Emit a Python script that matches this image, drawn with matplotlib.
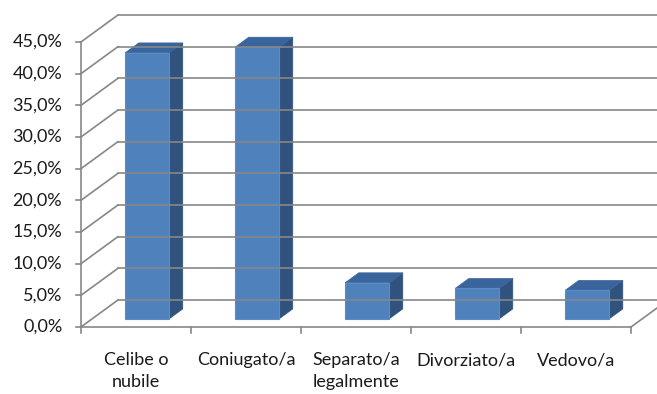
import numpy as np
import matplotlib.pyplot as plt
from matplotlib.patches import Polygon

plt.rcParams['font.family'] = ['Lato', 'DejaVu Sans']

categorie = ['Celibe o\nnubile', 'Coniugato/a', 'Separato/a\nlegalmente', 'Divorziato/a', 'Vedovo/a']
valori = [42.0, 42.9, 5.7, 4.8, 4.5]
yticks = [0, 5, 10, 15, 20, 25, 30, 35, 40, 45]
ylabels = [('%.1f%%' % v).replace('.', ',') for v in yticks]

# obliqua della profondita' (in unita' di categoria / percento)
DX, DY = 0.336, 4.26
z1, z2 = 0.30, 0.67   # profondita' delle barre
larg = 0.4
grigio = '#878787'
c_front = '#4f81bd'
c_top = '#3a659c'
c_side = '#31527d'


def proj(x, y, z):
    return (x + z * DX, y + z * DY)


fig = plt.figure(figsize=(6.57, 3.94), dpi=100)
ax = fig.add_axes([0, 0, 1, 1])
ax.set_xlim(-0.736, 5.236)
ax.set_ylim(-10.58, 51.63)
ax.axis('off')

n = len(categorie)
# griglia: parete di fondo e parete laterale
for v in yticks:
    ax.plot([DX, n + DX], [v + DY, v + DY], color=grigio, lw=1.2)
    ax.plot([0, DX], [v, v + DY], color=grigio, lw=1.2)
    ax.plot([-0.045, 0], [v, v], color=grigio, lw=1.2)
# pavimento e assi
ax.plot([0, n], [0, 0], color=grigio, lw=1.2)
ax.plot([n, n + DX], [0, DY], color=grigio, lw=1.2)
ax.plot([0, 0], [0, yticks[-1]], color=grigio, lw=1.2)
for i in range(n + 1):
    ax.plot([i, i], [0, -1.0], color=grigio, lw=1.2)

# barre 3D
for i, h in enumerate(valori):
    x0 = i + 0.5 - larg / 2
    x1 = i + 0.5 + larg / 2
    top = [proj(x0, h, z1), proj(x1, h, z1), proj(x1, h, z2), proj(x0, h, z2)]
    side = [proj(x1, 0, z1), proj(x1, 0, z2), proj(x1, h, z2), proj(x1, h, z1)]
    front = [proj(x0, 0, z1), proj(x1, 0, z1), proj(x1, h, z1), proj(x0, h, z1)]
    ax.add_patch(Polygon(side, closed=True, facecolor=c_side, edgecolor=c_side, lw=0.5))
    ax.add_patch(Polygon(top, closed=True, facecolor=c_top, edgecolor=c_top, lw=0.5))
    ax.add_patch(Polygon(front, closed=True, facecolor=c_front, edgecolor='#5b8cc8', lw=0.8))

# etichette
for v, s in zip(yticks, ylabels):
    ax.text(-0.17, v, s, ha='right', va='center', fontsize=13, color='#1a1a1a')
for i, s in enumerate(categorie):
    ax.text(i + 0.5, -4.0, s, ha='center', va='top', fontsize=13,
            color='#1a1a1a', linespacing=1.45)

fig.savefig('out.png', dpi=100)
